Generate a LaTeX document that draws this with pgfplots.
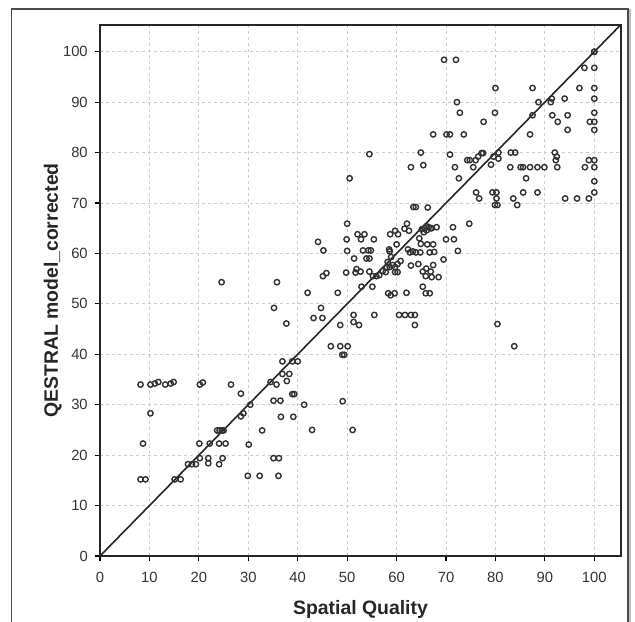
\documentclass[border=0pt]{standalone}
\usepackage{fontspec}
\setmainfont{Liberation Sans}
\usepackage{pgfplots}
\pgfplotsset{compat=1.18}

\definecolor{ptgray}{RGB}{50,50,50}
\definecolor{gridgray}{RGB}{205,205,205}

\begin{document}
\begin{tikzpicture}
% page of 635 x 621 px, 1 px = 0.5 pt
\path[use as bounding box] (0,0) rectangle (317.5pt,310.5pt);
\draw[black!70, line width=0.6pt] (5.6pt,-1pt) -- (5.6pt,306pt) -- (314pt,306pt) -- (314pt,-1pt);
\draw[black!25, line width=1.4pt] (315pt,-1pt) -- (315pt,306pt);

\begin{axis}[
    at={(50pt,32.5pt)}, anchor=south west,
    width=260.5pt, height=265.5pt, scale only axis,
    xmin=0, xmax=105.4, ymin=0, ymax=105.3,
    xtick={0,10,...,100}, ytick={0,10,...,100},
    tick pos=left, tick align=outside,
    major tick length=2.6pt,
    tick style={black, line width=0.6pt},
    axis line style={black!85, line width=1pt},
    grid=major,
    major grid style={gridgray, line width=0.5pt, dash pattern=on 1.5pt off 1.5pt},
    /pgf/number format/assume math mode=true,
    ticklabel style={font=\fontsize{7.4}{8}\selectfont, text=black!80},
    xticklabel style={yshift=-2.1pt},
    xlabel={Spatial Quality},
    ylabel={QESTRAL model\_corrected},
    label style={font=\fontsize{9.7}{11}\selectfont\bfseries, text=black!85, inner sep=0pt},
    xlabel style={at={(axis description cs:0.5,-0.083)}, anchor=north},
    ylabel style={at={(axis description cs:-0.073,0.5)}, anchor=south},
]

% identity line
\addplot[black!85, line width=0.8pt] coordinates {(0,0) (105.3,105.3)};

\addplot[only marks, mark=o, mark size=1.35pt, mark options={ptgray, line width=0.7pt}] coordinates {
(8.2,34.0) (10.2,34.0) (11.1,34.2) (11.8,34.5) (13.2,34.0) (14.3,34.2) (14.9,34.5)
(20.2,34.0) (20.8,34.4) (26.5,34.0) (28.5,32.2) (10.2,28.3) (8.7,22.3)
(8.2,15.2) (9.2,15.2) (15.1,15.2) (16.3,15.2) (17.8,18.2) (18.6,18.2) (19.4,18.2)
(20.1,22.3) (20.2,19.4) (21.9,19.4) (21.9,18.4) (22.2,22.3) (24.1,18.2) (24.8,19.4)
(24.1,22.3) (25.4,22.3) (23.7,24.9) (24.2,24.9) (24.7,24.9) (25.0,24.9)
(28.5,27.7) (29.0,28.3) (30.4,30.0) (30.1,22.1) (29.9,15.9) (32.3,15.9) (32.8,24.9)
(34.5,34.5) (35.7,34.0) (36.9,36.1) (38.3,36.1) (37.8,34.7) (36.9,38.6) (38.9,38.6)
(40.0,38.6) (35.1,30.8) (36.5,30.8) (36.6,27.6) (39.1,27.6) (38.9,32.1) (39.3,32.1)
(41.3,30.0) (42.9,25.0) (35.1,19.4) (36.2,19.4) (36.1,15.9)
(24.6,54.3) (35.8,54.3) (35.2,49.2) (37.7,46.1)
(42.0,52.2) (44.1,62.3) (45.2,60.6) (45.1,55.5) (45.8,56.1) (44.7,49.2) (43.2,47.2)
(45.0,47.2) (46.7,41.6) (48.6,41.6) (50.1,41.6) (49.0,39.9) (49.4,39.9) (49.1,30.7)
(48.1,52.2) (48.6,45.8) (50.5,74.9) (50.0,65.9) (49.9,62.8) (50.0,60.5) (49.8,56.2)
(51.1,25.0) (51.3,47.8) (51.3,46.4) (52.4,45.8) (51.4,59.0) (52.1,63.8) (53.5,63.8)
(52.8,62.8) (53.2,60.6) (54.3,60.6) (54.8,60.6) (51.9,56.9) (52.7,56.4) (51.7,56.2)
(52.9,53.4) (53.9,59.0) (54.5,59.0) (54.5,56.4) (55.2,55.5) (55.9,55.5) (55.4,62.8)
(55.1,53.4) (55.5,47.8) (54.5,79.7) (56.5,55.7) (57.2,56.5) (58.0,57.2) (58.2,58.3)
(58.9,59.3) (58.6,60.4) (58.5,60.8) (58.6,57.3) (59.2,57.7) (57.8,56.3) (58.3,52.1)
(58.8,51.7) (59.6,52.1) (58.7,63.8) (59.7,64.5) (60.3,63.8) (60.0,61.8) (60.2,57.9)
(60.8,58.5) (59.7,56.3) (60.2,56.3) (59.7,57.3) (60.5,47.8) (61.7,47.8) (62.9,47.8)
(63.7,47.8) (63.7,45.8) (62.0,52.2) (61.6,64.9) (62.1,65.9) (62.5,64.5) (62.9,57.6)
(62.3,60.8) (62.7,60.2) (63.3,60.4) (63.9,60.2) (64.8,60.2) (62.9,77.1) (63.4,69.2)
(63.9,69.2) (64.9,80.0) (65.4,77.5) (66.3,69.1) (64.4,57.9) (64.9,61.9) (64.6,63.0)
(65.1,64.8) (65.7,65.0) (66.1,64.6) (66.5,65.2) (66.9,65.0) (65.5,64.2) (66.0,65.4)
(65.3,56.4) (65.3,53.4) (65.9,52.1) (66.7,52.1) (65.9,55.5) (66.9,56.4) (66.0,57.0)
(66.7,60.2) (66.2,61.8) (67.4,61.8) (67.6,60.3) (67.4,57.7) (67.1,55.3) (68.5,55.3)
(67.1,65.0) (68.1,65.2) (67.4,83.6) (69.5,58.8) (70.0,62.8) (71.4,65.2) (71.6,62.8)
(72.4,60.5)
(69.6,98.4) (72.0,98.4) (72.2,90.0) (72.8,87.9) (70.1,83.6) (70.8,83.6) (73.6,83.6)
(70.8,79.6) (71.8,77.1) (72.6,74.9) (74.7,65.9) (74.3,78.5) (74.8,78.5) (75.5,77.1)
(76.0,78.5) (76.5,79.2) (77.2,79.9) (77.5,79.9) (76.1,72.1) (76.7,70.9) (77.6,86.1)
(79.1,77.6) (79.6,79.2) (79.9,87.9) (80.0,92.8) (79.4,72.1) (80.2,72.1) (80.2,70.9)
(79.9,69.6) (80.4,69.6) (80.6,80.0) (80.6,78.8) (80.4,46.0) (83.0,77.1) (83.1,80.0)
(84.0,80.0) (83.6,70.9) (84.4,69.6) (83.8,41.6) (85.6,72.1) (85.1,77.1) (85.6,77.1)
(86.2,74.9) (87.0,77.1) (88.5,77.1) (89.9,77.1) (87.0,83.6) (87.5,87.4) (87.5,92.8)
(88.5,72.1) (88.7,90.0) (91.2,90.0) (91.4,90.7) (91.5,87.4) (92.0,80.0) (92.4,79.2)
(92.2,78.5) (92.6,86.1) (92.5,77.1) (94.0,90.7) (94.6,87.4) (94.6,84.5) (94.1,70.9)
(96.5,70.9) (97.0,92.8) (98.0,96.8) (98.1,77.1) (98.9,70.9) (98.9,78.5) (99.1,86.1)
(100,100) (100,100) (100,96.8) (100,92.8) (100,90.7) (100,87.9) (100,86.1) (100,84.5)
(100,78.5) (100,77.1) (100,74.3) (100,72.1)
};
\end{axis}
\end{tikzpicture}
\end{document}
